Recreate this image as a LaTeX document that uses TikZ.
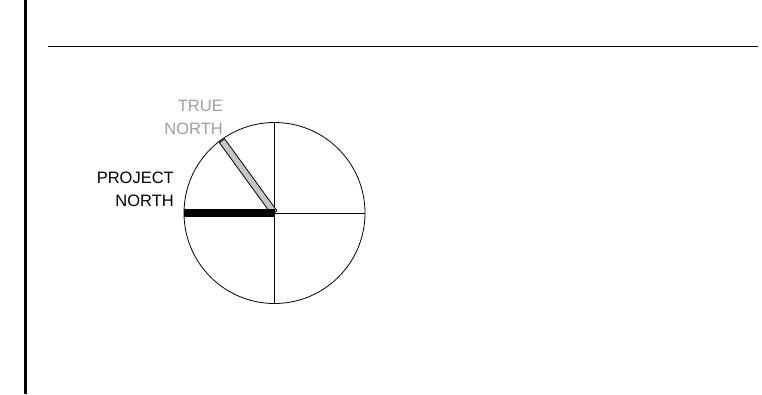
\documentclass[tikz,border=0pt]{standalone}
\usepackage{fontspec}
\setmainfont{Liberation Sans}
\usetikzlibrary{positioning}

\begin{document}
\begin{tikzpicture}[x=1pt,y=-1pt,
      lbl/.style={align=right,inner sep=0pt,
                  font=\fontsize{16.5}{23}\selectfont},
      quad/.style={line width=0.8pt},
      truebar/.style={draw,line width=0.8pt,fill=gray!45,inner sep=0pt,
                      minimum width=89pt,minimum height=6.5pt},
      projbar/.style={line width=8pt}]
    \useasboundingbox (0,0) rectangle (762,394);
    % frame
    \draw[line width=3pt] (25,0) -- (25,394);
    \coordinate (ruleL) at (48,46.3);
    \coordinate (ruleR) at (758,46.3);
    \draw[line width=1.3pt] (ruleL) -- (ruleR);

    % north dial
    \node[circle,draw,quad,minimum size=181pt,inner sep=0pt] (dial)
      at (274.5,213) {};
    \draw[quad] (dial.north) -- (dial.south);
    \draw[quad] (dial.center) -- (dial.east);
    \node[truebar,rotate=126,anchor=west] (truen) at (dial.center) {};
    \draw[projbar] (dial.center) -- (dial.west);

    \node[lbl,text=gray!75,anchor=east] (truelbl) at (223,117)
      {TRUE\\NORTH};
    \node[lbl,anchor=east] (projlbl) at (174,189)
      {PROJECT\\NORTH};
  \end{tikzpicture}
\end{document}
